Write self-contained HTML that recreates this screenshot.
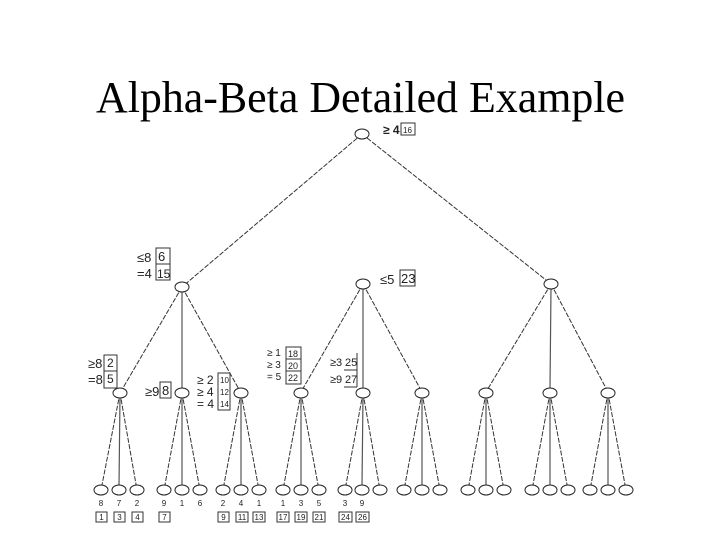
<!DOCTYPE html>
<html><head><meta charset="utf-8"><style>
html,body{margin:0;padding:0;background:#fff;}
svg{display:block;}
text{font-family:"Liberation Sans",sans-serif;fill:#222;}
.t{font-family:"Liberation Serif",serif;fill:#000;}
.e{fill:#fff;stroke:#222;stroke-width:1;}
.l{stroke:#333;stroke-width:1;stroke-dasharray:5,1.5;fill:none;}
.m{stroke:#555;stroke-width:1.2;fill:none;}
.b{fill:#fff;stroke:#333;stroke-width:1;}
</style></head><body>
<svg width="720" height="540" viewBox="0 0 720 540" xmlns="http://www.w3.org/2000/svg">
<text class="t" x="96" y="112" font-size="44" textLength="529" lengthAdjust="spacingAndGlyphs">Alpha-Beta Detailed Example</text>

<!-- top edges -->
<line class="l" x1="362" y1="134" x2="182" y2="287"/>
<line class="m" x1="362" y1="138" x2="363" y2="284" stroke="#fff" style="display:none"/>
<line class="l" x1="362" y1="134" x2="551" y2="284"/>
<line class="l" x1="362" y1="138" x2="363" y2="280" style="display:none"/>

<!-- level1 -> level2 -->
<line class="l" x1="182" y1="287" x2="120" y2="393"/>
<line class="m" x1="182" y1="290" x2="182" y2="389"/>
<line class="l" x1="182" y1="287" x2="241" y2="393"/>
<line class="l" x1="363" y1="284" x2="301" y2="392"/>
<line class="m" x1="363" y1="288" x2="363" y2="388"/>
<line class="l" x1="363" y1="284" x2="422" y2="392"/>
<line class="l" x1="551" y1="284" x2="486" y2="392"/>
<line class="m" x1="551" y1="288" x2="550" y2="388"/>
<line class="l" x1="551" y1="284" x2="608" y2="392"/>

<g id="groups"></g>
<!-- leaves generated inline -->
<g>
<!-- group lines: parent (px,393) -> leaves px-18, px, px+18 at 490 -->
<line class="l" x1="120" y1="393" x2="101" y2="490"/><line class="m" x1="120" y1="396" x2="119" y2="486"/><line class="l" x1="120" y1="393" x2="137" y2="490"/>
<line class="l" x1="182" y1="393" x2="164" y2="490"/><line class="m" x1="182" y1="396" x2="182" y2="486"/><line class="l" x1="182" y1="393" x2="200" y2="490"/>
<line class="l" x1="241" y1="393" x2="223" y2="490"/><line class="m" x1="241" y1="396" x2="241" y2="486" stroke="#aaa"/><line class="l" x1="241" y1="393" x2="259" y2="490"/>
<line class="l" x1="301" y1="393" x2="283" y2="490"/><line class="m" x1="301" y1="396" x2="301" y2="486" stroke="#bbb"/><line class="l" x1="301" y1="393" x2="319" y2="490"/>
<line class="l" x1="363" y1="393" x2="345" y2="490"/><line class="m" x1="363" y1="396" x2="362" y2="486" stroke="#ccc"/><line class="l" x1="363" y1="393" x2="380" y2="490"/>
<line class="l" x1="422" y1="393" x2="404" y2="490"/><line class="m" x1="422" y1="396" x2="422" y2="486"/><line class="l" x1="422" y1="393" x2="440" y2="490"/>
<line class="l" x1="486" y1="393" x2="468" y2="490"/><line class="m" x1="486" y1="396" x2="486" y2="486"/><line class="l" x1="486" y1="393" x2="504" y2="490"/>
<line class="l" x1="550" y1="393" x2="532" y2="490"/><line class="m" x1="550" y1="396" x2="550" y2="486"/><line class="l" x1="550" y1="393" x2="568" y2="490"/>
<line class="l" x1="608" y1="393" x2="590" y2="490"/><line class="m" x1="608" y1="396" x2="608" y2="486"/><line class="l" x1="608" y1="393" x2="626" y2="490"/>
</g>

<!-- nodes -->
<ellipse class="e" cx="362" cy="134" rx="7" ry="5"/>
<ellipse class="e" cx="182" cy="287" rx="7" ry="5"/>
<ellipse class="e" cx="363" cy="284" rx="7" ry="5"/>
<ellipse class="e" cx="551" cy="284" rx="7" ry="5"/>
<g>
<ellipse class="e" cx="120" cy="393" rx="7" ry="5"/><ellipse class="e" cx="182" cy="393" rx="7" ry="5"/><ellipse class="e" cx="241" cy="393" rx="7" ry="5"/>
<ellipse class="e" cx="301" cy="393" rx="7" ry="5"/><ellipse class="e" cx="363" cy="393" rx="7" ry="5"/><ellipse class="e" cx="422" cy="393" rx="7" ry="5"/>
<ellipse class="e" cx="486" cy="393" rx="7" ry="5"/><ellipse class="e" cx="550" cy="393" rx="7" ry="5"/><ellipse class="e" cx="608" cy="393" rx="7" ry="5"/>
</g>
<g>
<ellipse class="e" cx="101" cy="490" rx="7" ry="5"/><ellipse class="e" cx="119" cy="490" rx="7" ry="5"/><ellipse class="e" cx="137" cy="490" rx="7" ry="5"/>
<ellipse class="e" cx="164" cy="490" rx="7" ry="5"/><ellipse class="e" cx="182" cy="490" rx="7" ry="5"/><ellipse class="e" cx="200" cy="490" rx="7" ry="5"/>
<ellipse class="e" cx="223" cy="490" rx="7" ry="5"/><ellipse class="e" cx="241" cy="490" rx="7" ry="5"/><ellipse class="e" cx="259" cy="490" rx="7" ry="5"/>
<ellipse class="e" cx="283" cy="490" rx="7" ry="5"/><ellipse class="e" cx="301" cy="490" rx="7" ry="5"/><ellipse class="e" cx="319" cy="490" rx="7" ry="5"/>
<ellipse class="e" cx="345" cy="490" rx="7" ry="5"/><ellipse class="e" cx="362" cy="490" rx="7" ry="5"/><ellipse class="e" cx="380" cy="490" rx="7" ry="5"/>
<ellipse class="e" cx="404" cy="490" rx="7" ry="5"/><ellipse class="e" cx="422" cy="490" rx="7" ry="5"/><ellipse class="e" cx="440" cy="490" rx="7" ry="5"/>
<ellipse class="e" cx="468" cy="490" rx="7" ry="5"/><ellipse class="e" cx="486" cy="490" rx="7" ry="5"/><ellipse class="e" cx="504" cy="490" rx="7" ry="5"/>
<ellipse class="e" cx="532" cy="490" rx="7" ry="5"/><ellipse class="e" cx="550" cy="490" rx="7" ry="5"/><ellipse class="e" cx="568" cy="490" rx="7" ry="5"/>
<ellipse class="e" cx="590" cy="490" rx="7" ry="5"/><ellipse class="e" cx="608" cy="490" rx="7" ry="5"/><ellipse class="e" cx="626" cy="490" rx="7" ry="5"/>
</g>

<!-- leaf values -->
<g font-size="8" text-anchor="middle">
<text x="101" y="506">8</text><text x="119" y="506">7</text><text x="137" y="506">2</text>
<text x="164" y="506">9</text><text x="182" y="506">1</text><text x="200" y="506">6</text>
<text x="223" y="506">2</text><text x="241" y="506">4</text><text x="259" y="506">1</text>
<text x="283" y="506">1</text><text x="301" y="506">3</text><text x="319" y="506">5</text>
<text x="345" y="506">3</text><text x="362" y="506">9</text>
</g>
<!-- leaf order boxes -->
<g font-size="8" text-anchor="middle">
<rect class="b" x="96" y="512" width="11" height="10"/><text x="101.5" y="520">1</text>
<rect class="b" x="114" y="512" width="11" height="10"/><text x="119.5" y="520">3</text>
<rect class="b" x="132" y="512" width="11" height="10"/><text x="137.5" y="520">4</text>
<rect class="b" x="159" y="512" width="11" height="10"/><text x="164.5" y="520">7</text>
<rect class="b" x="218" y="512" width="11" height="10"/><text x="223.5" y="520">9</text>
<rect class="b" x="236" y="512" width="12" height="10"/><text x="242" y="520">11</text>
<rect class="b" x="253" y="512" width="12" height="10"/><text x="259" y="520">13</text>
<rect class="b" x="277" y="512" width="12" height="10"/><text x="283" y="520">17</text>
<rect class="b" x="295" y="512" width="12" height="10"/><text x="301" y="520">19</text>
<rect class="b" x="313" y="512" width="12" height="10"/><text x="319" y="520">21</text>
<rect class="b" x="339" y="512" width="13" height="10"/><text x="345.5" y="520">24</text>
<rect class="b" x="356" y="512" width="13" height="10"/><text x="362.5" y="520">26</text>
</g>

<!-- annotations -->
<text x="383" y="134" font-size="12" font-weight="bold">≥ 4</text>
<rect class="b" x="401" y="123" width="14" height="12"/><text x="403" y="133" font-size="8">16</text>

<text x="137" y="262" font-size="13">≤8</text>
<text x="137" y="278" font-size="13">=4</text>
<rect class="b" x="156" y="248" width="14" height="32"/><line x1="156" y1="264" x2="170" y2="264" stroke="#333"/>
<text x="158" y="261" font-size="13">6</text><text x="157" y="278" font-size="12">15</text>

<text x="380" y="284" font-size="13">≤5</text>
<rect class="b" x="400" y="270" width="15" height="16"/><text x="401" y="283" font-size="13">23</text>

<text x="88" y="368" font-size="13">≥8</text>
<text x="88" y="384" font-size="13">=8</text>
<rect class="b" x="104" y="355" width="13" height="33"/><line x1="104" y1="371" x2="117" y2="371" stroke="#333"/>
<text x="107" y="367" font-size="12">2</text><text x="107" y="383" font-size="12">5</text>

<text x="145" y="396" font-size="13">≥9</text>
<rect class="b" x="160" y="382" width="11" height="16"/><text x="162" y="395" font-size="13">8</text>

<text x="197" y="384" font-size="12">≥ 2</text>
<text x="197" y="396" font-size="12">≥ 4</text>
<text x="197" y="408" font-size="12">= 4</text>
<rect class="b" x="218" y="373" width="12" height="37"/>
<text x="220" y="383" font-size="8">10</text><text x="220" y="395" font-size="8">12</text><text x="220" y="407" font-size="8">14</text>

<text x="267" y="356" font-size="10">≥ 1</text>
<text x="267" y="368" font-size="10">≥ 3</text>
<text x="267" y="380" font-size="10">= 5</text>
<rect class="b" x="286" y="347" width="15" height="37"/><line x1="286" y1="359" x2="301" y2="359" stroke="#333"/><line x1="286" y1="371" x2="301" y2="371" stroke="#333"/>
<text x="288" y="357" font-size="9">18</text><text x="288" y="369" font-size="9">20</text><text x="288" y="381" font-size="9">22</text>

<text x="330" y="366" font-size="11">≥3</text>
<text x="330" y="383" font-size="11">≥9</text>
<text x="345" y="366" font-size="11">25</text><text x="345" y="383" font-size="11">27</text>
<line x1="344" y1="370" x2="357" y2="370" stroke="#333"/><line x1="344" y1="387" x2="357" y2="387" stroke="#333"/>
<line x1="357" y1="353" x2="357" y2="387" stroke="#333"/>
</svg>
</body></html>
